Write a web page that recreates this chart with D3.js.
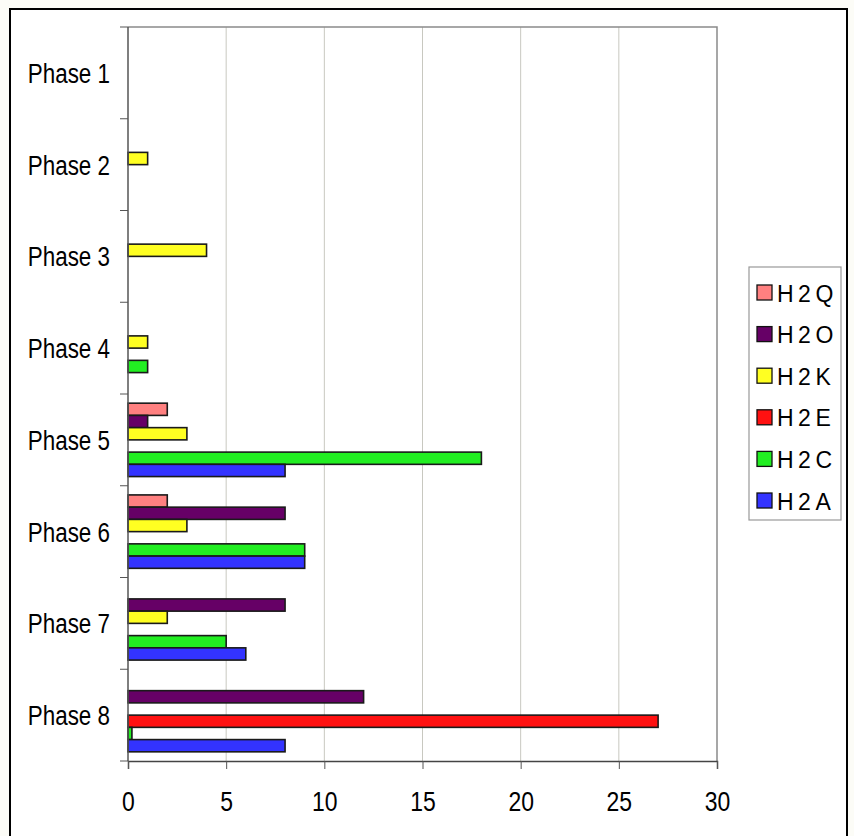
<!DOCTYPE html>
<html><head><meta charset="utf-8">
<script src="https://cdn.jsdelivr.net/npm/d3@7"></script>
<style>
html,body{margin:0;padding:0;background:#fcfcf7;}
svg{display:block;}
text{font-family:"Liberation Sans",Arial,sans-serif;fill:#000;}
</style></head>
<body>
<svg id="chart" width="854" height="836"></svg>
<script>
const categories = ["Phase 1","Phase 2","Phase 3","Phase 4","Phase 5","Phase 6","Phase 7","Phase 8"];
const seriesNames = ["H2Q","H2O","H2K","H2E","H2C","H2A"];
const seriesColors = ["#ff8080","#660066","#ffff22","#ff1111","#22ee22","#3333ff"];
const H2Q = [0,0,0,0,2,2,0,0];
const H2O = [0,0,0,0,1,8,8,12];
const H2K = [0,1,4,1,3,3,2,0];
const H2E = [0,0,0,0,0,0,0,27];
const H2C = [0,0,0,1,18,9,5,0.2];
const H2A = [0,0,0,0,8,9,6,8];
const xTicks = [0,5,10,15,20,25,30];
const seriesValues = [H2Q,H2O,H2K,H2E,H2C,H2A];

const svg = d3.select("#chart");
svg.append("rect").attr("x",10).attr("y",9).attr("width",837).attr("height",840)
  .attr("fill","#fff").attr("stroke","#000").attr("stroke-width",2);

const L=128, R=717, T=27, B=761;
const x = d3.scaleLinear().domain([0,30]).range([L,R]);
const y = d3.scaleBand().domain(categories).range([T,B]).paddingInner(0.2).paddingOuter(0.1);
const ys = d3.scaleBand().domain(seriesNames).range([0,y.bandwidth()]);

// gridlines
svg.append("g").selectAll("line").data(xTicks.slice(1,-1)).join("line")
  .attr("x1",d=>x(d)).attr("x2",d=>x(d)).attr("y1",T).attr("y2",B)
  .attr("stroke","#c8c8c0").attr("stroke-width",1);
// plot frame top/right
svg.append("path").attr("d",`M${L},${T}H${R}V${B}`).attr("fill","none")
  .attr("stroke","#8a8a8a").attr("stroke-width",1.5);

// bars
const rows=[];
categories.forEach((c,i)=>seriesNames.forEach((s,j)=>{
  if(seriesValues[j][i]>0) rows.push({c,s,v:seriesValues[j][i],col:seriesColors[j]});
}));
svg.append("g").selectAll("rect").data(rows).join("rect")
  .attr("x",x(0)).attr("y",d=>y(d.c)+ys(d.s))
  .attr("width",d=>x(d.v)-x(0)).attr("height",ys.bandwidth())
  .attr("fill",d=>d.col).attr("stroke","#1a1a1a").attr("stroke-width",1.6);

// y axis
const yAxis = d3.axisLeft(y).tickSize(0).tickPadding(0);
const gy = svg.append("g").attr("transform",`translate(${L},0)`).call(yAxis);
gy.select(".domain").remove();
gy.append("line").attr("x1",0).attr("x2",0).attr("y1",T).attr("y2",B).attr("stroke","#555").attr("stroke-width",1.5);
// boundary ticks
const bounds = d3.range(categories.length+1).map(i=>T+i*y.step());
gy.selectAll(".bt").data(bounds).join("line").attr("class","bt")
  .attr("x1",-8).attr("x2",0).attr("y1",d=>d).attr("y2",d=>d).attr("stroke","#555");
gy.selectAll(".tick text").attr("font-size",28).attr("text-anchor","end").attr("dy","0.36em")
  .attr("font-family","Liberation Sans, Arial, sans-serif")
  .each(function(){
    const t=d3.select(this);
    t.attr("x",null);
    t.attr("transform","translate(-18,0) scale(0.8,1)");
  });

// x axis
const xAxis = d3.axisBottom(x).tickValues(xTicks).tickSize(8).tickPadding(0).tickFormat(d3.format("d"));
const gx = svg.append("g").attr("transform",`translate(0,${B})`).call(xAxis);
gx.select(".domain").attr("stroke","#444").attr("stroke-width",1.5);
gx.selectAll(".tick line").attr("stroke","#555");
gx.selectAll(".tick text").attr("font-size",28).attr("y",null).attr("dy",null)
  .attr("font-family","Liberation Sans, Arial, sans-serif")
  .attr("transform","translate(0,50) scale(0.82,1)");

// legend
const lg = svg.append("g");
lg.append("rect").attr("x",749).attr("y",267).attr("width",92).attr("height",253)
  .attr("fill","#fff").attr("stroke","#999").attr("stroke-width",1.2);
const ly = d3.scalePoint().domain(seriesNames).range([293,501]);
const items = lg.selectAll("g").data(seriesNames).join("g")
  .attr("transform",d=>`translate(0,${ly(d)})`);
items.append("rect").attr("x",757).attr("y",-8).attr("width",15).attr("height",15)
  .attr("fill",(d,i)=>seriesColors[i]).attr("stroke","#111").attr("stroke-width",1.3);
items.append("text").attr("x",777).attr("y",8.5).attr("font-size",23)
  .attr("letter-spacing",4.5).text(d=>d);
</script>
</body></html>
